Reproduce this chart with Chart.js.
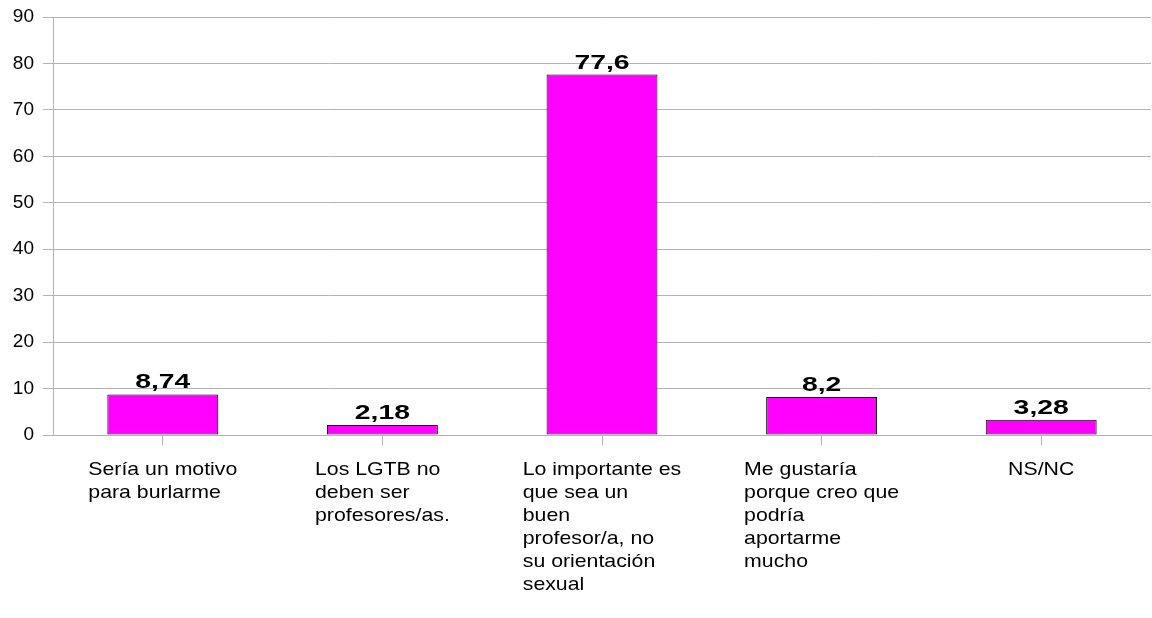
<!DOCTYPE html>
<html>
<head>
<meta charset="utf-8">
<script src="https://cdn.jsdelivr.net/npm/chart.js@4"></script>
<style>
  html, body { margin: 0; padding: 0; background: #fff; }
  #wrap { width: 1152px; height: 618px; }
</style>
</head>
<body>
<div id="wrap"><canvas id="chart" width="1152" height="618"></canvas></div>
<script>
// categories (already wrapped the way the original shows them)
var categories = [
    ["Sería un motivo", "para burlarme"],
    ["Los LGTB no", "deben ser", "profesores/as."],
    ["Lo importante es", "que sea un", "buen", "profesor/a, no", "su orientación", "sexual"],
    ["Me gustaría", "porque creo que", "podría", "aportarme", "mucho"],
    ["NS/NC"]
];
var values = [8.74, 2.18, 77.6, 8.2, 3.28];
var valueLabels = ["8,74", "2,18", "77,6", "8,2", "3,28"];
var yMin = 0, yMax = 90, yStep = 10;

var gridGray = "#b3b3b3";
var labelStretch = 1.15;

var textPlugin = {
    id: "texts",
    afterDatasetsDraw: function(chart) {
        var ctx = chart.ctx;
        var meta = chart.getDatasetMeta(0);

        // value labels above bars
        meta.data.forEach(function(bar, i) {
            ctx.save();
            ctx.font = 'bold 21px "Liberation Sans", Arial, sans-serif';
            ctx.fillStyle = "#000";
            ctx.textAlign = "center";
            ctx.textBaseline = "alphabetic";
            ctx.translate(bar.x, bar.y - 6);
            ctx.scale(1.35, 1);
            ctx.fillText(valueLabels[i], 0, 0);
            ctx.restore();
        });

        // category labels: block centred on tick, lines left aligned
        var xs = chart.scales.x;
        categories.forEach(function(lines, i) {
            var cx = xs.getPixelForValue(i);
            ctx.save();
            ctx.font = '18.5px "Liberation Sans", Arial, sans-serif';
            var w = 0;
            lines.forEach(function(l) { w = Math.max(w, ctx.measureText(l).width); });
            ctx.translate(cx - w * labelStretch / 2, xs.top + 40);
            ctx.scale(labelStretch, 1);
            ctx.fillStyle = "#000";
            ctx.textAlign = "left";
            ctx.textBaseline = "alphabetic";
            lines.forEach(function(l, j) { ctx.fillText(l, 0, j * 23); });
            ctx.restore();
        });
    }
};

var ctx = document.getElementById("chart").getContext("2d");
var chart = new Chart(ctx, {
    type: "bar",
    data: {
        labels: categories,
        datasets: [{
            data: values,
            backgroundColor: "#ff00ff",
            borderColor: "#000000",
            borderWidth: 1,
            borderSkipped: false,
            categoryPercentage: 1,
            barPercentage: 0.505
        }]
    },
    options: {
        responsive: false,
        animation: false,
        layout: { padding: { top: 17, right: 1, left: 0, bottom: 0 } },
        plugins: {
            legend: { display: false },
            tooltip: { enabled: false }
        },
        scales: {
            x: {
                ticks: { display: false },
                grid: { offset: false, drawOnChartArea: false, tickLength: 10, color: gridGray },
                border: { color: gridGray },
                afterFit: function(s) { s.height = 183; }
            },
            y: {
                min: yMin,
                max: yMax,
                ticks: {
                    stepSize: yStep,
                    color: "#000",
                    padding: 9,
                    font: { family: '"Liberation Sans", Arial, sans-serif', size: 19, lineHeight: 0.8 }
                },
                grid: { color: gridGray, tickLength: 10 },
                border: { color: gridGray },
                afterFit: function(s) { s.width = 53; }
            }
        }
    },
    plugins: [textPlugin]
});
</script>
</body>
</html>
